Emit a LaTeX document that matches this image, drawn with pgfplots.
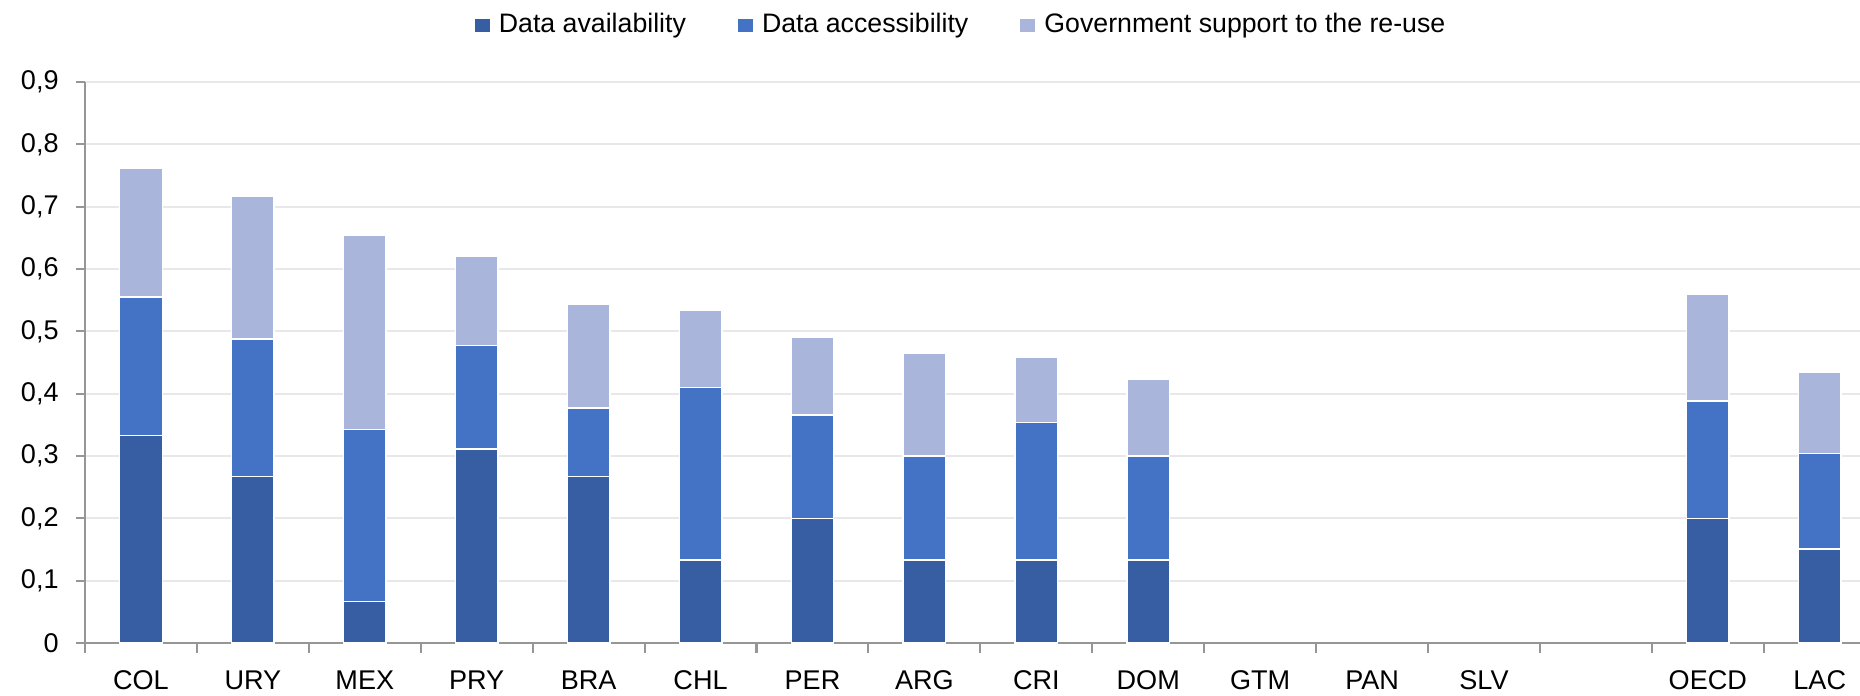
\documentclass[border=0pt]{standalone}
\usepackage{pgfplots}
\pgfplotsset{compat=1.18}
\usepackage{fontspec}
\setmainfont{Liberation Sans}

\definecolor{cavail}{RGB}{55,94,162}
\definecolor{caccess}{RGB}{68,114,196}
\definecolor{csupport}{RGB}{169,181,218}
\definecolor{cgrid}{RGB}{232,232,232}
\definecolor{caxis}{RGB}{150,150,150}

% x: 0..12 countries, 13 empty, 14 OECD, 15 LAC
\pgfplotstableread{
x    avail  access  support
0    0.333  0.222   0.206
1    0.267  0.221   0.228
2    0.067  0.276   0.311
3    0.311  0.166   0.144
4    0.267  0.110   0.166
5    0.133  0.277   0.124
6    0.200  0.166   0.124
7    0.133  0.167   0.165
8    0.133  0.221   0.104
9    0.133  0.167   0.123
14   0.200  0.188   0.172
15   0.151  0.153   0.131
}\scores

\begin{document}
\begin{tikzpicture}
\begin{axis}[
  width=17.75cm, height=5.61cm, scale only axis,
  ybar stacked, bar width=0.38,
  xmin=-0.5, xmax=15.36, ymin=0, ymax=0.9,
  axis x line*=bottom, axis y line*=left,
  axis line style={caxis, line width=0.6pt},
  xtick={0,...,15},
  xticklabels={COL,URY,MEX,PRY,BRA,CHL,PER,ARG,CRI,DOM,GTM,PAN,SLV,,OECD,LAC},
  major x tick style={draw=none},
  minor xtick={-0.5,0.5,...,15.5},
  minor x tick style={caxis, line width=0.6pt},
  minor tick length=0.1cm,
  ytick={0,0.1,...,0.9},
  major tick length=0.09cm,
  tick align=outside,
  y tick style={caxis, line width=0.6pt},
  ymajorgrids, grid style={cgrid, line width=0.6pt},
  /pgf/number format/fixed, /pgf/number format/precision=1,
  /pgf/number format/use comma, /pgf/number format/assume math mode=true,
  yticklabel style={xshift=-0.05cm},
  xticklabel style={yshift=-0.06cm},
  tick label style={font=\fontsize{7.7}{9}\selectfont, black},
  legend style={at={(0.495,1.1016)}, anchor=center, draw=none,
    font=\fontsize{7.6}{9}\selectfont, legend columns=-1,
    /tikz/every even column/.append style={column sep=0.45cm},
    /tikz/every odd column/.append style={column sep=0.02cm}},
  legend image code/.code={\fill[#1,draw=none] (0cm,-0.065cm) rectangle (0.15cm,0.065cm);},
  every axis plot/.append style={draw=white, line width=0.4pt},
]
\addplot[fill=cavail] table[x=x, y=avail] {\scores};
\addplot[fill=caccess] table[x=x, y=access] {\scores};
\addplot[fill=csupport] table[x=x, y=support] {\scores};
\legend{Data availability, Data accessibility, Government support to the re-use}
\end{axis}
\pgfresetboundingbox
\path[use as bounding box] ([xshift=-0.85cm,yshift=-0.52cm]current axis.south west) rectangle ([yshift=0.82cm]current axis.north east);
\end{tikzpicture}
\end{document}
